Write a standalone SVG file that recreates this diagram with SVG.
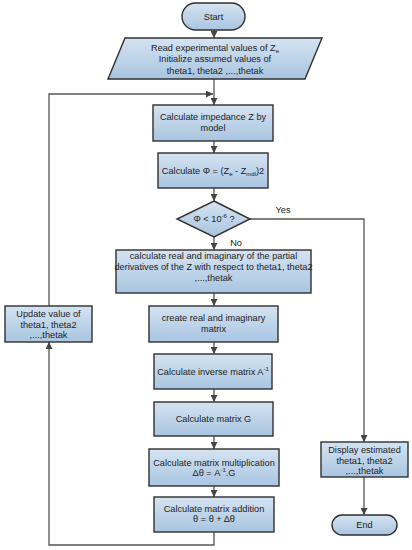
<svg xmlns="http://www.w3.org/2000/svg" width="412" height="550" viewBox="0 0 412 550">
<style>
.n{fill:url(#g);stroke:#2f2f2f;stroke-width:1.4}
.t{font-family:"Liberation Sans",Arial,sans-serif;font-size:9.2px;fill:#222;text-anchor:middle}
.c{fill:none;stroke:#555;stroke-width:1.3}
.s{font-size:6px}
</style>
<defs>
<linearGradient id="g" x1="0" y1="0" x2="0" y2="1">
<stop offset="0" stop-color="#d5e3f1"/>
<stop offset="1" stop-color="#a9c5e1"/>
</linearGradient>
<marker id="a" viewBox="0 0 10 10" refX="10" refY="5" markerWidth="7" markerHeight="7" markerUnits="userSpaceOnUse" orient="auto">
<path d="M0,0L10,5L0,10z" fill="#444"/>
</marker>
</defs>
<rect width="412" height="550" fill="#fff"/>
<g id="connectors">
<path class="c" d="M214,30V38" marker-end="url(#a)"/>
<path class="c" d="M214,79V105" marker-end="url(#a)"/>
<path class="c" d="M214,141V153" marker-end="url(#a)"/>
<path class="c" d="M214,188V201" marker-end="url(#a)"/>
<path class="c" d="M214,237V250" marker-end="url(#a)"/>
<path class="c" d="M214,293V306" marker-end="url(#a)"/>
<path class="c" d="M214,342V354" marker-end="url(#a)"/>
<path class="c" d="M214,389V402" marker-end="url(#a)"/>
<path class="c" d="M214,436V449" marker-end="url(#a)"/>
<path class="c" d="M214,486V497" marker-end="url(#a)"/>
<path class="c" d="M214,532V545H49V342" marker-end="url(#a)"/>
<path class="c" d="M49,306V94H213" marker-end="url(#a)"/>
<path class="c" d="M250,219H364V442" marker-end="url(#a)"/>
<path class="c" d="M364,477V515" marker-end="url(#a)"/>
<text class="t" x="283" y="213">Yes</text>
<text class="t" x="236" y="246">No</text>
</g>
<g id="start"><rect class="n" x="182" y="3" width="63" height="27" rx="13.5"/><text class="t" x="213.5" y="20">Start</text></g>
<g id="read"><path class="n" d="M125,38H322L305,79H108Z"/>
<text class="t" x="215" y="51">Read experimental values of Z<tspan class="s" dy="2">e</tspan></text>
<text class="t" x="215" y="62">Initialize assumed values of</text>
<text class="t" x="215" y="74">theta1, theta2 ,...,thetak</text></g>
<g id="impedance"><rect class="n" x="153" y="105" width="120" height="36"/>
<text class="t" x="213" y="120">Calculate impedance Z by</text><text class="t" x="213" y="131">model</text></g>
<g id="phi"><rect class="n" x="158" y="153" width="110" height="35"/>
<text class="t" x="213" y="174">Calculate Φ  = (Z<tspan class="s" dy="2">e</tspan><tspan dy="-2"> - Z</tspan><tspan class="s" dy="2">mdl</tspan><tspan dy="-2">)2</tspan></text></g>
<g id="decision"><path class="n" d="M214,201L250,219L214,237L177,219Z"/>
<text class="t" x="214" y="222">Φ  &lt; 10<tspan class="s" dy="-4">-6</tspan><tspan dy="4"> ?</tspan></text></g>
<g id="partial"><rect class="n" x="116" y="250" width="195" height="43"/>
<text class="t" x="213.5" y="259">calculate real and imaginary of the partial</text>
<text class="t" x="213.5" y="270">derivatives of the Z with respect to theta1, theta2</text>
<text class="t" x="213.5" y="281">,...,thetak</text></g>
<g id="create"><rect class="n" x="149" y="306" width="129" height="36"/>
<text class="t" x="213.5" y="321">create real and imaginary</text><text class="t" x="213.5" y="332">matrix</text></g>
<g id="inverse"><rect class="n" x="154" y="354" width="118" height="35"/>
<text class="t" x="213" y="375">Calculate inverse matrix A<tspan class="s" dy="-4">-1</tspan></text></g>
<g id="matrixg"><rect class="n" x="154" y="402" width="119" height="34"/>
<text class="t" x="213.5" y="422">Calculate matrix G</text></g>
<g id="mult"><rect class="n" x="149" y="449" width="130" height="37"/>
<text class="t" x="214" y="466">Calculate matrix multiplication</text>
<text class="t" x="214" y="476">Δθ = A<tspan class="s" dy="-4">-1</tspan><tspan dy="4">.G</tspan></text></g>
<g id="add"><rect class="n" x="154" y="497" width="120" height="35"/>
<text class="t" x="214" y="512">Calculate matrix addition</text>
<text class="t" x="214" y="522">θ = θ + Δθ</text></g>
<g id="update"><rect class="n" x="5" y="306" width="87" height="36"/>
<text class="t" x="48.5" y="317">Update value of</text>
<text class="t" x="48.5" y="328">theta1, theta2</text>
<text class="t" x="48.5" y="338">,...,thetak</text></g>
<g id="display"><rect class="n" x="321" y="442" width="87" height="35"/>
<text class="t" x="364.5" y="453">Display estimated</text>
<text class="t" x="364.5" y="464">theta1, theta2</text>
<text class="t" x="364.5" y="474">,...,thetak</text></g>
<g id="end"><rect class="n" x="332" y="515" width="65" height="20" rx="10"/><text class="t" x="364.5" y="528">End</text></g>
</svg>
